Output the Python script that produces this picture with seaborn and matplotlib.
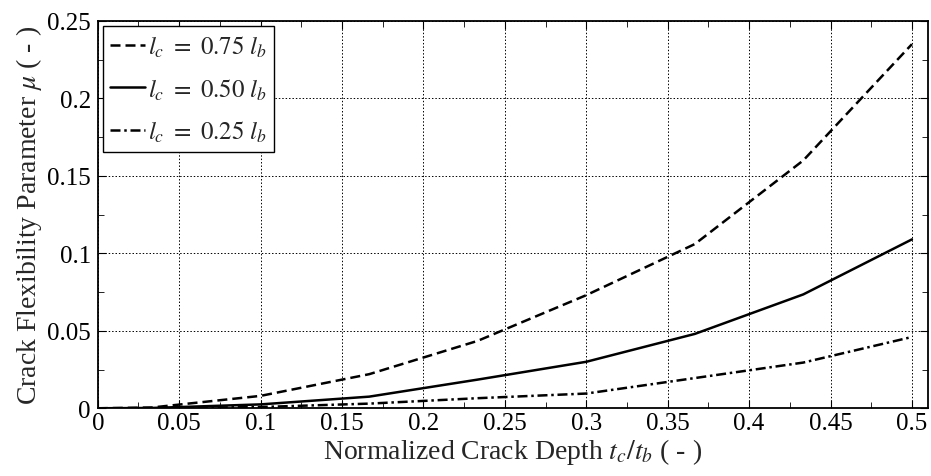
import matplotlib
matplotlib.use("Agg")
import matplotlib.pyplot as plt
from matplotlib.ticker import MultipleLocator, FormatStrFormatter
import pandas as pd
import seaborn as sns

# crack depth ratio t_c / t_b
depth = [0.0, 0.0333, 0.1, 0.1667, 0.2333, 0.3, 0.3667, 0.4333, 0.5]
# crack flexibility parameter for three crack lengths
mu_075 = [0.0, 0.0005, 0.008, 0.022, 0.0435, 0.073, 0.106, 0.160, 0.235]
mu_050 = [0.0, 0.0002, 0.0025, 0.0075, 0.0185, 0.030, 0.048, 0.0735, 0.109]
mu_025 = [0.0, 0.0, 0.0008, 0.003, 0.0065, 0.0095, 0.0195, 0.0295, 0.046]

labels = [r'$\mathit{l_c\ =\ 0.75\ l_b}$',
          r'$\mathit{l_c\ =\ 0.50\ l_b}$',
          r'$\mathit{l_c\ =\ 0.25\ l_b}$']

sns.set_style("ticks")
plt.rcParams['font.family'] = ['Liberation Serif', 'DejaVu Serif']
plt.rcParams['mathtext.fontset'] = 'stix'

df = pd.DataFrame({'depth': depth * 3,
                   'mu': mu_075 + mu_050 + mu_025,
                   'case': [labels[0]] * 9 + [labels[1]] * 9 + [labels[2]] * 9})

fig = plt.figure(figsize=(9.31, 4.77), dpi=100)
ax = fig.add_axes([0.105, 0.142, 0.892, 0.812])

styles = {labels[0]: (0, (4, 2)), labels[1]: '-', labels[2]: (0, (4, 1.5, 1, 1.5))}
for lab in labels:
    sub = df[df['case'] == lab]
    sns.lineplot(data=sub, x='depth', y='mu', ax=ax, color='black', lw=1.8,
                 linestyle=styles[lab], label=lab)

ax.set_xlim(0, 0.51)
ax.set_ylim(0, 0.25)
ax.xaxis.set_major_locator(MultipleLocator(0.05))
ax.xaxis.set_minor_locator(MultipleLocator(0.025))
ax.yaxis.set_major_locator(MultipleLocator(0.05))
ax.yaxis.set_minor_locator(MultipleLocator(0.025))
ax.xaxis.set_major_formatter(FormatStrFormatter('%g'))
ax.yaxis.set_major_formatter(FormatStrFormatter('%g'))
ax.tick_params(which='both', direction='in', top=True, right=True, labelsize=18,
               colors='black')
ax.tick_params(axis='x', pad=3)
ax.tick_params(axis='y', pad=5)
ax.tick_params(which='major', length=6)
ax.tick_params(which='minor', length=4)
ax.grid(True, which='major', color='black', linestyle=(0, (1.5, 2)), linewidth=0.7)
for s in ax.spines.values():
    s.set_linewidth(1.3)
    s.set_color('black')

ax.set_xlabel(r'Normalized Crack Depth $t_c/t_b$ ( - )', fontsize=20, labelpad=1)
ax.set_ylabel(r'Crack Flexibility Parameter $\mu$ ( - )', fontsize=20, labelpad=2)

leg = ax.legend(loc='upper left', fontsize=18, frameon=True, fancybox=False,
                handlelength=1.4, handletextpad=0.1, borderaxespad=0.2,
                borderpad=0.3, labelspacing=0.7)
leg.get_frame().set_edgecolor('black')
leg.get_frame().set_linewidth(1.0)
leg.get_frame().set_alpha(1)

fig.savefig("out.png", dpi=100)
